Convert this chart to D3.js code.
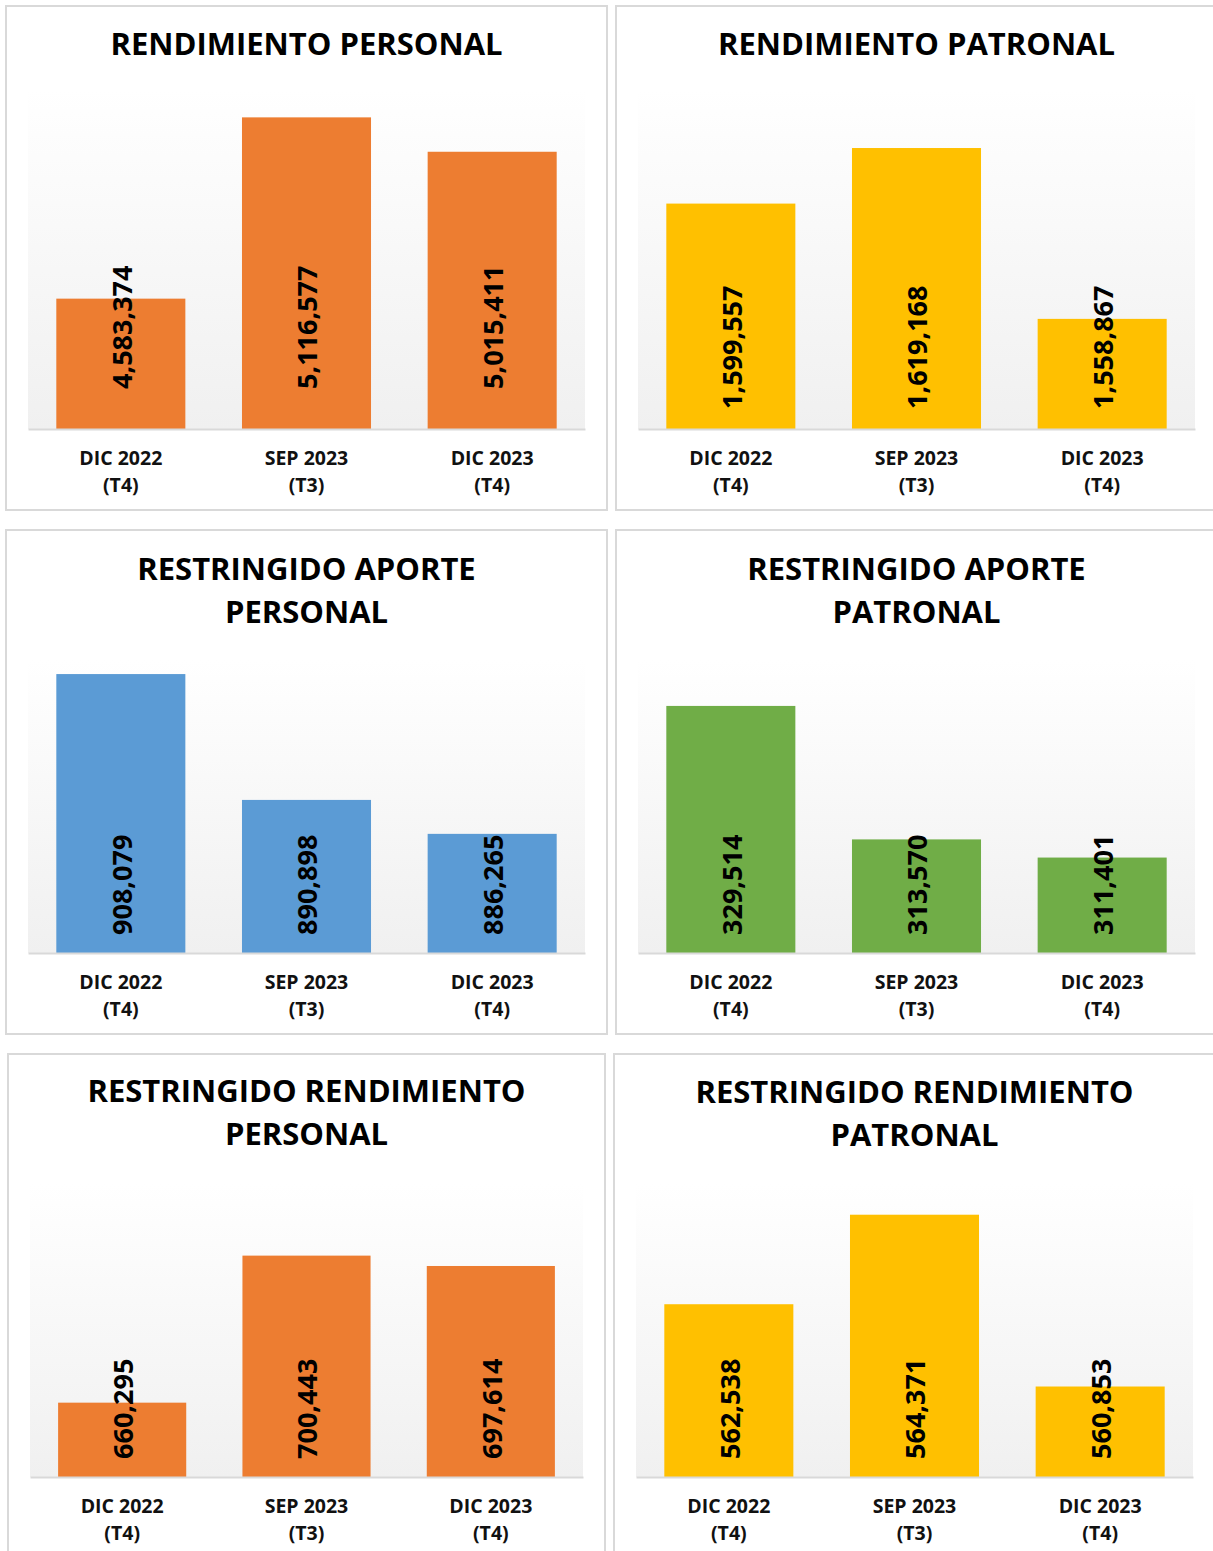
<!DOCTYPE html>
<html lang="es">
<head>
<meta charset="UTF-8">
<title>Rendimientos</title>
<script src="https://d3js.org/d3.v7.min.js"></script>
<style>
  * { margin: 0; padding: 0; box-sizing: border-box; }
  body { background: #fff; font-family: "Open Sans", sans-serif; }
  svg { display: block; }
</style>
</head>
<body>
<div id="chart"></div>
<script>
// categories (two-line tick labels)
const categories = ["DIC 2022\n(T4)", "SEP 2023\n(T3)", "DIC 2023\n(T4)"];

const titles = [
  ["RENDIMIENTO PERSONAL"],
  ["RENDIMIENTO PATRONAL"],
  ["RESTRINGIDO APORTE", "PERSONAL"],
  ["RESTRINGIDO APORTE", "PATRONAL"],
  ["RESTRINGIDO RENDIMIENTO", "PERSONAL"],
  ["RESTRINGIDO RENDIMIENTO", "PATRONAL"]
];

// series values
const rendPersonal = [4583374, 5116577, 5015411];
const rendPatronal = [1599557, 1619168, 1558867];
const restAportePersonal = [908079, 890898, 886265];
const restAportePatronal = [329514, 313570, 311401];
const restRendPersonal = [660295, 700443, 697614];
const restRendPatronal = [562538, 564371, 560853];

// value axis ranges (axis is hidden, as in the original)
const domains = [
  [4200000, 5200000],
  [1520000, 1640000],
  [870000, 910000],
  [300000, 335000],
  [640000, 720000],
  [559000, 565000]
];

const colors = ["#ED7D31", "#FFC000", "#5B9BD5", "#70AD47", "#ED7D31", "#FFC000"];
const series = [rendPersonal, rendPatronal, restAportePersonal, restAportePatronal, restRendPersonal, restRendPatronal];

// layout of each panel: box, plot area, title baselines, label offset
const panels = [
  { box: [6, 6, 601, 504],   plot: [28, 89, 585, 429],    titleY: [55],         labelOff: 40 },
  { box: [616, 6, 620, 504], plot: [638, 89, 1195, 429],  titleY: [55],         labelOff: 20 },
  { box: [6, 530, 601, 504], plot: [28, 660, 585, 953],   titleY: [580, 623],   labelOff: 18 },
  { box: [616, 530, 620, 504], plot: [638, 660, 1195, 953], titleY: [580, 623], labelOff: 18 },
  { box: [8, 1054, 597, 520], plot: [30, 1184, 583, 1477], titleY: [1102, 1145], labelOff: 18 },
  { box: [614, 1054, 620, 520], plot: [636, 1184, 1193, 1477], titleY: [1103, 1146], labelOff: 18 }
];

const width = 1213, height = 1551;
const svg = d3.select("#chart").append("svg")
  .attr("width", width)
  .attr("height", height);

const defs = svg.append("defs");
const grad = defs.append("linearGradient")
  .attr("id", "plotBg")
  .attr("x1", 0).attr("y1", 0).attr("x2", 0).attr("y2", 1);
grad.append("stop").attr("offset", "0%").attr("stop-color", "#ffffff");
grad.append("stop").attr("offset", "100%").attr("stop-color", "#f0f0f0");

const fmt = d3.format(",");

panels.forEach((p, i) => drawPanel(p, i));

function drawPanel(p, i) {
  const g = svg.append("g");
  const [bx, by, bw, bh] = p.box;
  const [x0, y0, x1, y1] = p.plot;

  g.append("rect")
    .attr("x", bx).attr("y", by)
    .attr("width", bw).attr("height", bh)
    .attr("fill", "#fff")
    .attr("stroke", "#d9d9d9")
    .attr("stroke-width", 2);

  // title
  const titleX = (x0 + x1) / 2;
  g.selectAll(".title")
    .data(titles[i])
    .enter()
    .append("text")
    .attr("x", titleX)
    .attr("y", (d, k) => p.titleY[k])
    .attr("text-anchor", "middle")
    .attr("font-size", "31px")
    .attr("font-weight", "bold")
    .attr("fill", "#000")
    .text(d => d);

  g.append("rect")
    .attr("x", x0).attr("y", y0)
    .attr("width", x1 - x0).attr("height", y1 - y0)
    .attr("fill", "url(#plotBg)");

  const x = d3.scaleBand()
    .domain(categories)
    .range([x0, x1])
    .paddingInner(0.305)
    .paddingOuter(0.1525);

  const y = d3.scaleLinear()
    .domain(domains[i])
    .range([y1, y0]);

  const data = categories.map((c, k) => ({ cat: c, value: series[i][k] }));

  g.selectAll(".bar")
    .data(data)
    .enter()
    .append("rect")
    .attr("x", d => x(d.cat))
    .attr("y", d => y(d.value))
    .attr("width", x.bandwidth())
    .attr("height", d => y1 - y(d.value))
    .attr("fill", colors[i]);

  // value labels, rotated near the base
  g.selectAll(".val")
    .data(data)
    .enter()
    .append("text")
    .attr("transform", d => `translate(${x(d.cat) + x.bandwidth() / 2 + 1},${y1 - p.labelOff}) rotate(-90)`)
    .attr("dy", "0.36em")
    .attr("text-anchor", "start")
    .attr("font-size", "27px")
    .attr("font-weight", "bold")
    .attr("fill", "#000")
    .text(d => fmt(d.value));

  // category axis
  const axis = g.append("g")
    .attr("transform", `translate(0,${y1})`)
    .call(d3.axisBottom(x).tickSize(0).tickFormat(""));
  axis.select(".domain")
    .attr("stroke", "#d9d9d9")
    .attr("stroke-width", 2);

  const ticks = g.selectAll(".tick-lbl")
    .data(categories)
    .enter()
    .append("text")
    .attr("x", d => x(d) + x.bandwidth() / 2)
    .attr("y", y1 + 36)
    .attr("text-anchor", "middle")
    .attr("font-size", "19.5px")
    .attr("font-weight", "bold")
    .attr("fill", "#111");
  ticks.selectAll("tspan")
    .data(d => d.split("\n"))
    .enter()
    .append("tspan")
    .attr("x", function () { return d3.select(this.parentNode).attr("x"); })
    .attr("dy", (d, k) => k === 0 ? 0 : 27)
    .text(d => d);
}
</script>
</body>
</html>
